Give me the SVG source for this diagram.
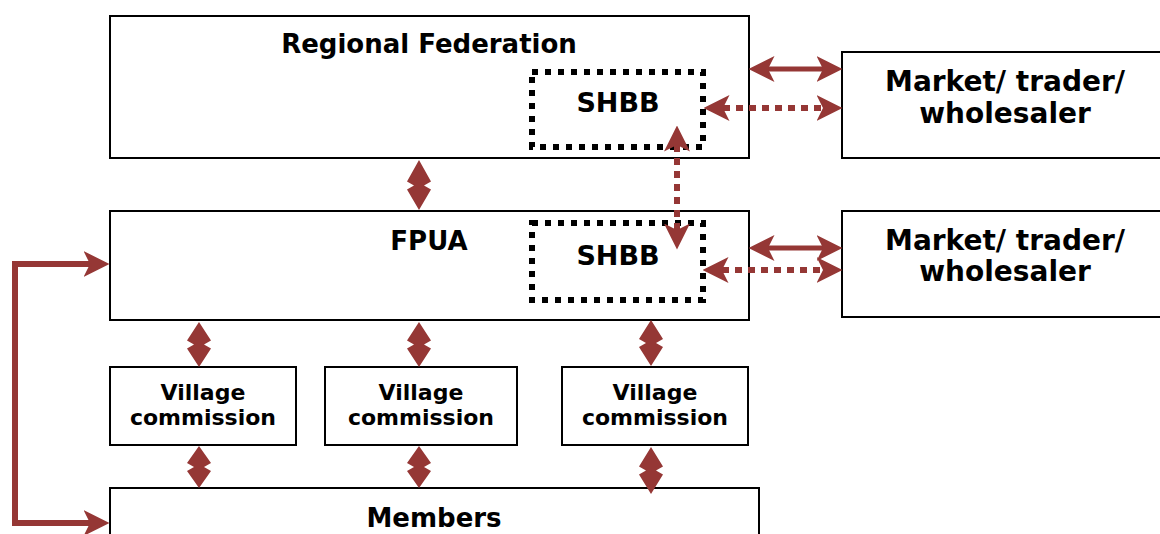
<svg xmlns="http://www.w3.org/2000/svg" width="1160" height="534" viewBox="0 0 1160 534">
<style>
.box{fill:#fff;stroke:#000;stroke-width:2}
.dot{fill:none;stroke:#000;stroke-width:6;stroke-dasharray:6 7}
.t{font-family:"DejaVu Sans",Verdana,sans-serif;font-weight:bold;fill:#000;text-anchor:middle}
.big{font-size:26px}
.sh{font-size:27px}
.mk{font-size:28px}
.sm{font-size:22px}
.ln{fill:none;stroke:#953735;stroke-width:5}
.dl{fill:none;stroke:#953735;stroke-width:6;stroke-dasharray:7 6}
.va{fill:#953735;stroke:none}
</style>
<defs>
<marker id="ah" markerUnits="userSpaceOnUse" markerWidth="26" markerHeight="26" viewBox="0 0 24 24" refX="6" refY="12" orient="auto-start-reverse">
<path d="M0,0 L24,12 L0,24 L6,12 z" fill="#953735"/>
</marker>
</defs>
<rect width="1160" height="534" fill="#fff"/>
<g id="regional">
<rect class="box" x="110" y="16" width="639" height="142"/>
<text class="t big" x="429" y="53">Regional Federation</text>
</g>
<g id="shbb1">
<rect class="dot" x="532" y="72" width="171" height="75"/>
<text class="t sh" x="618" y="112">SHBB</text>
</g>
<g id="market1">
<rect class="box" x="842" y="52" width="330" height="106"/>
<text class="t mk" x="1005" y="91">Market/ trader/</text>
<text class="t mk" x="1005" y="123">wholesaler</text>
</g>
<g id="fpua">
<rect class="box" x="110" y="211" width="639" height="109"/>
<text class="t big" x="429" y="250">FPUA</text>
</g>
<g id="shbb2">
<rect class="dot" x="532" y="223" width="171" height="77"/>
<text class="t sh" x="618" y="265">SHBB</text>
</g>
<g id="market2">
<rect class="box" x="842" y="211" width="330" height="106"/>
<text class="t mk" x="1005" y="250">Market/ trader/</text>
<text class="t mk" x="1005" y="281">wholesaler</text>
</g>
<g id="vc1">
<rect class="box" x="110" y="367" width="186" height="78"/>
<text class="t sm" x="203" y="400">Village</text>
<text class="t sm" x="203" y="425">commission</text>
</g>
<g id="vc2">
<rect class="box" x="325" y="367" width="192" height="78"/>
<text class="t sm" x="421" y="400">Village</text>
<text class="t sm" x="421" y="425">commission</text>
</g>
<g id="vc3">
<rect class="box" x="562" y="367" width="186" height="78"/>
<text class="t sm" x="655" y="400">Village</text>
<text class="t sm" x="655" y="425">commission</text>
</g>
<g id="members">
<rect class="box" x="110" y="488" width="649" height="60"/>
<text class="t big" x="434" y="527">Members</text>
</g>
<g id="connectors">
<line class="ln" x1="768" y1="69" x2="823" y2="69" marker-start="url(#ah)" marker-end="url(#ah)"/>
<line class="dl" x1="723" y1="108" x2="823" y2="108" marker-start="url(#ah)" marker-end="url(#ah)"/>
<line class="ln" x1="768" y1="248" x2="823" y2="248" marker-start="url(#ah)" marker-end="url(#ah)"/>
<line class="dl" x1="722" y1="270" x2="823" y2="270" marker-start="url(#ah)" marker-end="url(#ah)"/>
<line class="dl" x1="677" y1="145" x2="677" y2="230" marker-start="url(#ah)" marker-end="url(#ah)"/>
<path class="ln" style="stroke-width:6" d="M90,264 L15,264 L15,523 L90,523" marker-start="url(#ah)" marker-end="url(#ah)"/>
<polygon class="va" points="419,160 431,181.5 424,185.5 431,189.5 419,210 407,189.5 414,185.5 407,181.5"/>
<polygon class="va" points="199,322 211,340.5 204,344.5 211,348.5 199,367 187,348.5 194,344.5 187,340.5"/>
<polygon class="va" points="419,322 431,340.5 424,344.5 431,348.5 419,367 407,348.5 414,344.5 407,340.5"/>
<polygon class="va" points="651,320 663,339 656,343 663,347 651,366 639,347 646,343 639,339"/>
<polygon class="va" points="199,446 211,463 204,467 211,471 199,488 187,471 194,467 187,463"/>
<polygon class="va" points="419,446 431,463 424,467 431,471 419,488 407,471 414,467 407,463"/>
<polygon class="va" points="651,447 663,466.5 656,470.5 663,474.5 651,494 639,474.5 646,470.5 639,466.5"/>
</g>
</svg>
